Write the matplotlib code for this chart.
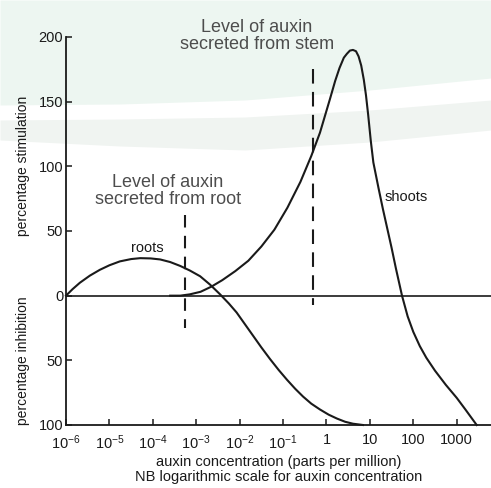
import numpy as np
import matplotlib
matplotlib.use("Agg")
import matplotlib.pyplot as plt
from matplotlib.transforms import blended_transform_factory

# values (x as log10 of ppm)
roots_logx = [-6.0, -5.85, -5.68, -5.45, -5.22, -5.0, -4.76, -4.5, -4.29, -4.05,
              -3.83, -3.6, -3.37, -3.15, -2.91, -2.68, -2.45, -2.25, -2.07, -1.88,
              -1.69, -1.5, -1.3, -1.1, -0.91, -0.72, -0.54, -0.35, -0.15, 0.05,
              0.24, 0.43, 0.61, 0.84]
roots_y = [0, 5, 10, 15.5, 20, 23.5, 26.5, 28.3, 29, 28.8,
           28, 26, 23, 19.5, 15, 8.5, 1, -6, -13, -22,
           -31, -40, -49, -57.5, -65, -72, -78, -83.5, -88, -92,
           -95, -97.5, -99, -100]

shoots_logx = [-3.6, -3.37, -3.15, -2.9, -2.65, -2.4, -2.1, -1.8, -1.5, -1.2,
               -0.9, -0.6, -0.35, -0.15, 0.08, 0.2, 0.3, 0.4, 0.47, 0.54,
               0.61, 0.68, 0.74, 0.8, 0.86, 0.91, 0.96, 1.02, 1.08, 1.2,
               1.3, 1.4, 1.5, 1.6, 1.74, 1.87, 2.0, 2.15, 2.3, 2.5,
               2.75, 3.0, 3.2, 3.46]
shoots_y = [0, 0, 1, 3, 7, 12, 19, 27, 38, 51,
            68, 88, 108, 126, 152, 166, 176, 184, 187, 189.5,
            190, 189, 185, 178, 167, 155, 140, 120, 103, 83,
            67, 52, 37, 21, 0, -16, -28, -39, -48, -58,
            -69, -79, -88, -100]

root_level = 10 ** -3.26
stem_level = 10 ** -0.32

xtick_pos = [1e-6, 1e-5, 1e-4, 1e-3, 1e-2, 1e-1, 1, 10, 100, 1000]
xtick_lab = [r"$10^{-6}$", r"$10^{-5}$", r"$10^{-4}$", r"$10^{-3}$", r"$10^{-2}$",
             r"$10^{-1}$", "1", "10", "100", "1000"]
ytick_pos = [200, 150, 100, 50, 0, -50, -100]
ytick_lab = ["200", "150", "100", "50", "0", "50", "100"]

sans = ["Liberation Sans", "DejaVu Sans"]
plt.rcParams["mathtext.fontset"] = "custom"
plt.rcParams["mathtext.rm"] = "Liberation Sans"
plt.rcParams["mathtext.it"] = "Liberation Sans"
plt.rcParams["mathtext.bf"] = "Liberation Sans"

W, H = 491, 488
fig = plt.figure(figsize=(W / 100, H / 100), dpi=100)

# faint watermark bands in the background
bg = fig.add_axes([0, 0, 1, 1], zorder=-5)
bg.set_xlim(0, W)
bg.set_ylim(H, 0)
bg.axis("off")
bx = np.array([0, 120, 245, 370, 491])
bg.fill_between(bx, 0, [105, 104, 100, 90, 78], color="#edf6f1", lw=0)
bg.fill_between(bx, [120, 119, 117, 110, 100], [140, 146, 150, 142, 130],
                color="#f0f4f1", lw=0)

ax = fig.add_axes([66 / W, 1 - 425 / H, (W - 66) / W, (425 - 37) / H])
ax.set_facecolor("none")
ax.set_xscale("log")
ax.set_xlim(1e-6, 10 ** 3.79)
ax.set_ylim(-100, 200)

ink = "#1a1a1a"
ax.plot(10 ** np.array(roots_logx), roots_y, color=ink, lw=1.5,
        solid_joinstyle="round", clip_on=False)
ax.plot(10 ** np.array(shoots_logx), shoots_y, color=ink, lw=1.5,
        solid_joinstyle="round", clip_on=False)
ax.axhline(0, color=ink, lw=1.2)

ax.plot([root_level, root_level], [62, -25], color=ink, lw=1.5, dashes=(6, 4))
ax.plot([stem_level, stem_level], [175, -7], color=ink, lw=1.5, dashes=(7, 4))

for s in ["top", "right"]:
    ax.spines[s].set_visible(False)
for s in ["left", "bottom"]:
    ax.spines[s].set_color(ink)
    ax.spines[s].set_linewidth(1.3)

ax.set_xticks(xtick_pos)
ax.set_xticklabels(xtick_lab)
ax.minorticks_off()
ax.set_yticks(ytick_pos)
ax.set_yticklabels(ytick_lab)
ax.tick_params(direction="in", length=4, width=1.1, color=ink, labelcolor=ink)
ax.tick_params(axis="x", pad=6)
ax.tick_params(axis="y", pad=2)
for lab in ax.get_xticklabels():
    lab.set_family(sans)
    lab.set_fontsize(10.5)
for lab in ax.get_yticklabels():
    lab.set_family(sans)
    lab.set_fontsize(10.5)

ax.set_xlabel("auxin concentration (parts per million)\n"
              "NB logarithmic scale for auxin concentration",
              family=sans, fontsize=10.5, color=ink, linespacing=1.15, labelpad=2)

tr = blended_transform_factory(ax.transAxes, ax.transData)
ax.text(-0.1, 100, "percentage stimulation", transform=tr, rotation=90,
        ha="center", va="center", family=sans, fontsize=10, color=ink)
ax.text(-0.1, -50, "percentage inhibition", transform=tr, rotation=90,
        ha="center", va="center", family=sans, fontsize=10, color=ink)

ax.text(10 ** -4.13, 37, "roots", ha="center", va="center",
        family=sans, fontsize=10.5, color=ink)
ax.text(10 ** 1.33, 76, "shoots", ha="left", va="center",
        family=sans, fontsize=10.5, color=ink)

grey = "#4d4d4d"
ax.text(10 ** -1.6, 201, "Level of auxin\nsecreted from stem", ha="center",
        va="center", family=sans, fontsize=13, color=grey, linespacing=1.0,
        clip_on=False)
ax.text(10 ** -3.65, 81, "Level of auxin\nsecreted from root", ha="center",
        va="center", family=sans, fontsize=13, color=grey, linespacing=0.95)

fig.savefig("out.png", dpi=100, facecolor="white")
